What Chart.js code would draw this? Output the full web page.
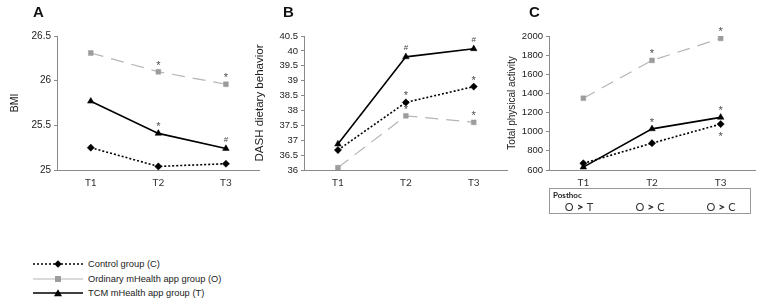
<!DOCTYPE html>
<html><head><meta charset="utf-8">
<script src="https://cdn.jsdelivr.net/npm/chart.js@4"></script>
<style>
body{margin:0;width:772px;height:303px;background:#fff;position:relative;overflow:hidden;font-family:"Liberation Sans",Arial,sans-serif;}
canvas{position:absolute;top:0}
.pl{position:absolute;top:4px;font:bold 15px/16px "Liberation Sans",Arial,sans-serif;color:#111}
.lg{position:absolute;left:33px;height:12px;font:9.3px/12px "Liberation Sans",Arial,sans-serif;color:#222;white-space:nowrap}
.lg svg{position:absolute;left:0;top:0}
.lg span{position:absolute;left:55px;top:0}
#ph{position:absolute;left:549px;top:188px;width:202px;height:26px;border:1px solid #999;box-sizing:border-box;font-family:Lato,"Open Sans",sans-serif;color:#333}
#ph .t{position:absolute;left:3px;top:1px;font:bold 8px/10px Lato,sans-serif;color:#222}
#ph .c{position:absolute;top:11px;font:11px/13px Lato,sans-serif;white-space:nowrap;transform:translateX(-50%)}
#ph b{font-weight:900;font-size:12px;margin:0 3px}
</style></head>
<body>
<canvas id="cA" width="264" height="200" style="left:0;width:264px;height:200px"></canvas>
<canvas id="cB" width="262" height="200" style="left:250px;width:262px;height:200px"></canvas>
<canvas id="cC" width="272" height="200" style="left:500px;width:272px;height:200px"></canvas>
<div class="pl" style="left:33px">A</div>
<div class="pl" style="left:283px">B</div>
<div class="pl" style="left:529px">C</div>

<div class="lg" style="top:258px"><svg width="52" height="12"><line x1="0" y1="6" x2="50" y2="6" stroke="#000" stroke-width="1.6" stroke-dasharray="2,2"/><path d="M25 2.3 L28.7 6 L25 9.7 L21.3 6Z" fill="#000"/></svg><span>Control group (C)</span></div>
<div class="lg" style="top:273px"><svg width="52" height="12"><line x1="0" y1="6" x2="50" y2="6" stroke="#b5b5b5" stroke-width="1.2"/><rect x="22" y="3" width="6" height="6" fill="#9c9c9c"/></svg><span>Ordinary mHealth app group (O)</span></div>
<div class="lg" style="top:287px"><svg width="52" height="12"><line x1="0" y1="6" x2="50" y2="6" stroke="#000" stroke-width="1.6"/><path d="M25 2.3 L29 9.3 L21 9.3Z" fill="#000"/></svg><span>TCM mHealth app group (T)</span></div>

<div id="ph"><div class="t">Posthoc</div>
<div class="c" style="left:29px">O<b>&gt;</b>T</div>
<div class="c" style="left:100px">O<b>&gt;</b>C</div>
<div class="c" style="left:171px">O<b>&gt;</b>C</div>
</div>

<script>
// ---- data ----
const categories = ['T1', 'T2', 'T3'];
const seriesNames = ['Control group (C)', 'Ordinary mHealth app group (O)', 'TCM mHealth app group (T)'];

// Panel A: BMI
const bmiControl = [25.25, 25.04, 25.07];
const bmiOrdinary = [26.31, 26.10, 25.96];
const bmiTCM = [25.77, 25.41, 25.24];
const bmiMarksControl = ['', '', ''];
const bmiMarksOrdinary = ['', '*', '*'];
const bmiMarksTCM = ['', '*', '#'];
const bmiTicks = {min: 25, max: 26.5, step: 0.5};

// Panel B: DASH dietary behavior
const dashControl = [36.67, 38.27, 38.80];
const dashOrdinary = [36.08, 37.82, 37.60];
const dashTCM = [36.87, 39.80, 40.07];
const dashMarksControl = ['', '*', '*'];
const dashMarksOrdinary = ['', '*', '*'];
const dashMarksTCM = ['', '#', '#'];
const dashTicks = {min: 36, max: 40.5, step: 0.5};

// Panel C: Total physical activity
const paControl = [670, 880, 1080];
const paOrdinary = [1350, 1745, 1975];
const paTCM = [630, 1030, 1150];
const paMarksControl = ['', '', '*'];
const paMarksOrdinary = ['', '*', '*'];
const paMarksTCM = ['', '*', '*'];
const paTicks = {min: 600, max: 2000, step: 200};

// ---- plugin for significance marks ----
const marksPlugin = {
  id: 'marks',
  afterDatasetsDraw(chart) {
    const ctx = chart.ctx;
    chart.data.datasets.forEach((ds, i) => {
      if (!ds.marks) return;
      const meta = chart.getDatasetMeta(i);
      meta.data.forEach((pt, j) => {
        const m = ds.marks[j];
        if (!m) return;
        ctx.save();
        ctx.fillStyle = '#4a4a4a';
        ctx.textAlign = 'center';
        ctx.textBaseline = 'middle';
        ctx.font = (m === '#' ? '8px' : '11px') + ' "Liberation Sans", Arial, sans-serif';
        const dy = ds.marksBelow ? 11 : -(m === '#' ? 9 : 8);
        ctx.fillText(m, pt.x, pt.y + dy + (m === '*' ? 2 : 0));
        ctx.restore();
      });
    });
  }
};

function makeDatasets(c, o, t, mc, mo, mt, belowC) {
  return [
    {label: seriesNames[0], data: c, borderColor: '#000', backgroundColor: '#000', borderWidth: 1.6,
     borderDash: [2, 2], pointStyle: 'rectRot', pointRadius: 3.6, pointHoverRadius: 3.6, pointBorderWidth: 0.5,
     marks: mc, marksBelow: belowC},
    {label: seriesNames[1], data: o, borderColor: '#b5b5b5', backgroundColor: '#9c9c9c', borderWidth: 1.2,
     borderDash: [13, 8], pointStyle: 'rect', pointRadius: 3.4, pointHoverRadius: 3.4, pointBorderWidth: 0.5,
     pointBorderColor: '#9c9c9c', marks: mo},
    {label: seriesNames[2], data: t, borderColor: '#000', backgroundColor: '#000', borderWidth: 1.6,
     pointStyle: 'triangle', pointRadius: 3.8, pointHoverRadius: 3.8, pointBorderWidth: 0.5, marks: mt}
  ];
}

function makeChart(id, datasets, ticks, title, titleSize, titlePad, yWidth, rightPad, tickSize) {
  return new Chart(document.getElementById(id), {
    type: 'line',
    data: {labels: categories, datasets: datasets},
    plugins: [marksPlugin],
    options: {
      responsive: false, animation: false, maintainAspectRatio: false,
      layout: {padding: {left: 0, top: 36, right: rightPad, bottom: 8}},
      plugins: {legend: {display: false}, tooltip: {enabled: false}},
      elements: {line: {tension: 0}},
      scales: {
        x: {
          type: 'category', offset: true,
          grid: {display: true, drawOnChartArea: false, drawTicks: false},
          border: {display: true, color: '#8a8a8a', width: 1},
          ticks: {color: '#333', font: {size: 10, family: 'Lato, "Liberation Sans", sans-serif'}, padding: 7},
          afterFit: s => { s.height = 22; }
        },
        y: {
          min: ticks.min, max: ticks.max,
          grid: {display: true, drawOnChartArea: false, drawTicks: true, tickLength: 3, color: '#8a8a8a'},
          border: {display: true, color: '#8a8a8a', width: 1},
          ticks: {stepSize: ticks.step, color: '#222', padding: 3,
                  callback: v => String(Math.round(v * 10) / 10),
                  font: {size: tickSize, family: '"Liberation Sans", Arial, sans-serif'}},
          title: {display: true, text: title, color: '#222', padding: {top: titlePad, bottom: 0},
                  font: {size: titleSize, family: '"Liberation Sans", Arial, sans-serif'}},
          afterFit: s => { s.width = yWidth; }
        }
      }
    }
  });
}

makeChart('cA', makeDatasets(bmiControl, bmiOrdinary, bmiTCM, bmiMarksControl, bmiMarksOrdinary, bmiMarksTCM, false),
  bmiTicks, 'BMI', 10.5, 9, 57, 3, 10);
makeChart('cB', makeDatasets(dashControl, dashOrdinary, dashTCM, dashMarksControl, dashMarksOrdinary, dashMarksTCM, false),
  dashTicks, 'DASH dietary behavior', 11.5, 3, 54, 1, 9.5);
makeChart('cC', makeDatasets(paControl, paOrdinary, paTCM, paMarksControl, paMarksOrdinary, paMarksTCM, true),
  paTicks, 'Total physical activity', 10, 6, 49, 17, 9.5);
</script>
</body></html>
